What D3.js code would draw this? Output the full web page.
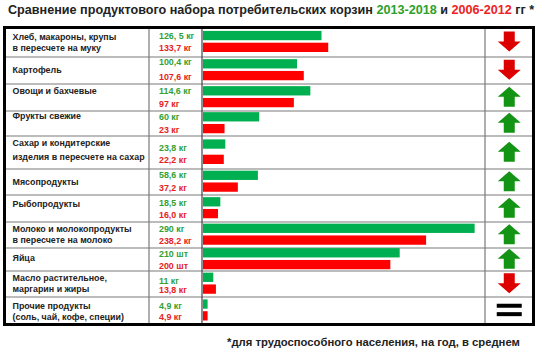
<!DOCTYPE html>
<html>
<head>
<meta charset="utf-8">
<script src="https://cdn.jsdelivr.net/npm/d3@7"></script>
<style>
  body { margin: 0; background: #fff; }
  text { font-family: "Liberation Sans", Arial, sans-serif; font-weight: bold; }
</style>
</head>
<body>
<svg id="chart"></svg>
<script>
// Data
const categories = [
    ["Хлеб, макароны, крупы", "в пересчете на муку"],
    ["Картофель"],
    ["Овощи и бахчевые"],
    ["Фрукты свежие"],
    ["Сахар и кондитерские", "изделия в пересчете на сахар"],
    ["Мясопродукты"],
    ["Рыбопродукты"],
    ["Молоко и молокопродукты", "в пересчете на молоко"],
    ["Яйца"],
    ["Масло растительное,", "маргарин и жиры"],
    ["Прочие продукты", "(соль, чай, кофе, специи)"]
];
const values2013 = [126.5, 100.4, 114.6, 60, 23.8, 58.6, 18.5, 290, 210, 11, 4.9];
const values2006 = [133.7, 107.6, 97, 23, 22.2, 37.2, 16.0, 238.2, 200, 13.8, 4.9];
const labels2013 = ["126, 5 кг", "100,4 кг", "114,6 кг", "60 кг", "23,8 кг", "58,6 кг", "18,5 кг", "290 кг", "210 шт", "11 кг", "4,9 кг"];
const labels2006 = ["133,7 кг", "107,6 кг", "97 кг", "23 кг", "22,2 кг", "37,2 кг", "16,0 кг", "238,2 кг", "200 шт", "13,8 кг", "4,9 кг"];
const xDomain = [0, 300];

// Layout of the table (row edges, label line placement, value text nudges)
const rowEdges = [27.5, 57, 84, 111, 136, 169, 195, 222, 248, 271, 297, 324.5];
const labelTop = [9.2, 13, 6.7, 5, 7.3, 13.3, 9.3, 7, 9.7, 7.3, 9];
const labelGap = [11, 0, 0, 0, 13.4, 0, 0, 10.5, 0, 11, 10.7];
const valueNudge = [0.8, -1.5, 0, 0, 4, 0, 0.8, 0.8, 0.8, 4, 1.5];

class BasketTable {

    constructor(_config) {
        this.config = {
            parentElement: _config.parentElement,
            containerWidth: _config.containerWidth || 547,
            containerHeight: _config.containerHeight || 351,
            cols: _config.cols || {left: 4.5, label: 149, value: 202, arrow: 485, right: 533.5}
        };
        this.initVis();
    }

    initVis() {
        let vis = this;
        const c = vis.config.cols;

        vis.svg = d3.select(vis.config.parentElement)
            .attr('width', vis.config.containerWidth)
            .attr('height', vis.config.containerHeight);

        vis.xScale = d3.scaleLinear()
            .domain(xDomain)
            .range([c.value + 1, c.arrow - 1]);

        // Title
        const title = vis.svg.append('text')
            .attr('x', 8)
            .attr('y', 14)
            .attr('fill', '#222')
            .style('font-size', '12px');
        title.append('tspan').text('Сравнение продуктового набора потребительских корзин ');
        title.append('tspan').attr('fill', '#2ca02c').text('2013-2018');
        title.append('tspan').text(' и ');
        title.append('tspan').attr('fill', '#ee2222').text('2006-2012');
        title.append('tspan').text(' гг *');
        vis.fitText(title, 527);

        // Footnote
        const foot = vis.svg.append('text')
            .attr('x', 227)
            .attr('y', 346)
            .attr('fill', '#222')
            .style('font-size', '11px')
            .text('*для трудоспособного населения, на год, в среднем');
        vis.fitText(foot, 293);

        vis.grid = vis.svg.append('g');
        vis.chart = vis.svg.append('g');
    }

    fitText(sel, target) {
        const size = parseFloat(sel.style('font-size'));
        const len = sel.node().getComputedTextLength();
        sel.style('font-size', (size * target / len) + 'px');
    }

    updateVis() {
        let vis = this;
        vis.rows = categories.map((lines, i) => {
            const top = rowEdges[i], bottom = rowEdges[i + 1];
            return {
                i, lines, top, bottom,
                mid: (top + bottom) / 2 - 0.8,
                v13: values2013[i], v06: values2006[i],
                l13: labels2013[i], l06: labels2006[i],
                trend: Math.sign(values2013[i] - values2006[i])
            };
        });
        vis.renderVis();
    }

    renderVis() {
        let vis = this;
        const c = vis.config.cols;
        const barH = 9.3;

        // Horizontal separators
        vis.grid.selectAll('.hline')
            .data(rowEdges.slice(1, -1))
            .join('line')
            .attr('class', 'hline')
            .attr('x1', c.left).attr('x2', c.right)
            .attr('y1', d => d).attr('y2', d => d)
            .attr('stroke', '#7a7a7a')
            .attr('stroke-width', 1.2);

        // Vertical separators
        vis.grid.selectAll('.vline')
            .data([[c.label, '#7a7a7a'], [c.value, '#444'], [c.arrow, '#7a7a7a']])
            .join('line')
            .attr('class', 'vline')
            .attr('x1', d => d[0]).attr('x2', d => d[0])
            .attr('y1', rowEdges[0]).attr('y2', rowEdges[rowEdges.length - 1])
            .attr('stroke', d => d[1])
            .attr('stroke-width', 1.2);

        const row = vis.chart.selectAll('.row')
            .data(vis.rows)
            .join('g')
            .attr('class', 'row');

        const gapOf = d => (d.bottom - d.top) > 30 ? 6 : 2.5;
        const y13 = d => d.mid - gapOf(d) / 2 - barH;
        const y06 = d => d.mid + gapOf(d) / 2;

        // Bars
        row.append('rect')
            .attr('x', vis.xScale(0))
            .attr('y', y13)
            .attr('width', d => vis.xScale(d.v13) - vis.xScale(0))
            .attr('height', barH)
            .attr('fill', '#00b050');

        row.append('rect')
            .attr('x', vis.xScale(0))
            .attr('y', y06)
            .attr('width', d => vis.xScale(d.v06) - vis.xScale(0))
            .attr('height', barH)
            .attr('fill', '#ff0000');

        // Value texts
        row.append('text')
            .attr('x', 159)
            .attr('y', d => y13(d) + barH / 2 + valueNudge[d.i])
            .attr('dy', '0.35em')
            .attr('fill', '#33a033')
            .style('font-size', '8.9px')
            .text(d => d.l13);

        row.append('text')
            .attr('x', 159)
            .attr('y', d => y06(d) + barH / 2 + 0.8)
            .attr('dy', '0.35em')
            .attr('fill', '#e62222')
            .style('font-size', '8.9px')
            .text(d => d.l06);

        // Category labels
        row.selectAll('.lbl')
            .data(d => d.lines.map((t, k) => ({t, y: d.top + labelTop[d.i] + k * labelGap[d.i]})))
            .join('text')
            .attr('class', 'lbl')
            .attr('x', 12.5)
            .attr('y', d => d.y)
            .attr('dy', '0.35em')
            .attr('fill', '#222')
            .style('font-size', '8.9px')
            .text(d => d.t);

        // Trend markers
        const ax = (c.arrow + c.right) / 2;
        const arrowUp = 'M0,-10L11.5,0L5.5,0L5.5,10L-5.5,10L-5.5,0L-11.5,0Z';
        const arrowDown = 'M0,10L11.5,0L5.5,0L5.5,-10L-5.5,-10L-5.5,0L-11.5,0Z';

        row.filter(d => d.trend !== 0)
            .append('path')
            .attr('transform', d => `translate(${ax},${d.mid})`)
            .attr('d', d => d.trend > 0 ? arrowUp : arrowDown)
            .attr('fill', d => d.trend > 0 ? '#149414' : '#dd0000');

        const eq = row.filter(d => d.trend === 0);
        [-4.2, 4.2].forEach(off => {
            eq.append('rect')
                .attr('x', ax - 12.5)
                .attr('y', d => d.mid + off - 2)
                .attr('width', 25)
                .attr('height', 4)
                .attr('fill', '#000');
        });

        // Outer border
        vis.svg.append('rect')
            .attr('x', c.left)
            .attr('y', rowEdges[0])
            .attr('width', c.right - c.left)
            .attr('height', rowEdges[rowEdges.length - 1] - rowEdges[0])
            .attr('fill', 'none')
            .attr('stroke', '#000')
            .attr('stroke-width', 3);
    }
}

const table = new BasketTable({parentElement: '#chart'});
table.updateVis();
</script>
</body>
</html>
